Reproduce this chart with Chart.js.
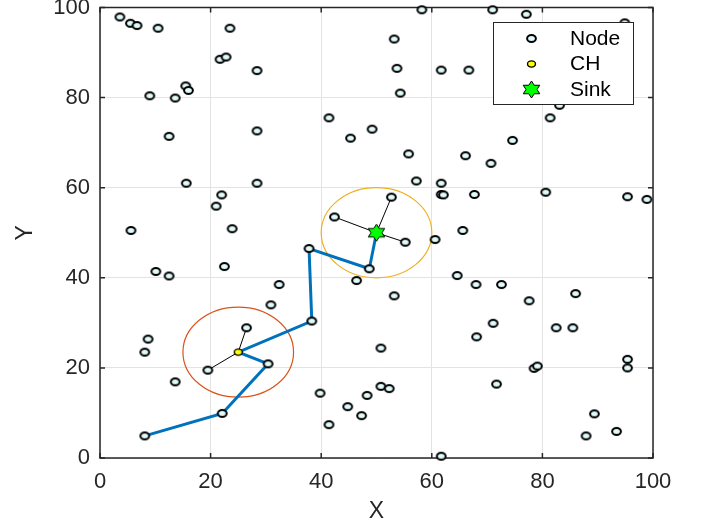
<!DOCTYPE html>
<html>
<head>
<meta charset="utf-8">
<script src="https://cdn.jsdelivr.net/npm/chart.js@4.4.0/dist/chart.umd.min.js"></script>
<style>
html, body { margin: 0; padding: 0; background: #fff; }
canvas { display: block; }
</style>
</head>
<body>
<canvas id="myChart" width="702" height="526"></canvas>
<script>
// node positions
const nodeX = [3.6, 5.5, 6.7, 10.5, 23.5, 21.7, 22.8, 28.4, 9.0, 13.6, 15.5, 16.0, 12.5, 28.4,
  58.2, 53.2, 53.7, 61.7, 66.7, 54.3, 41.4, 49.2, 45.3, 55.8, 66.1, 71.0, 77.1, 94.9, 83.1, 81.4, 74.6,
  15.6, 28.4, 22.0, 21.0, 5.6, 23.9, 10.1, 12.5, 22.5, 32.4, 30.9,
  57.2, 61.7, 61.7, 62.1, 67.7, 52.7, 42.4, 55.2, 60.6, 65.6, 37.8, 48.7, 46.4, 64.6, 68.0, 53.2,
  70.7, 80.6, 95.4, 98.9, 72.6, 77.6, 86.0,
  26.5, 8.7, 8.1, 30.4, 19.5, 13.6, 22.1, 8.1,
  38.3, 50.8, 68.1, 39.8, 41.4, 44.8, 47.3, 48.3, 50.8, 52.3, 61.7,
  71.1, 82.5, 85.5, 95.4, 95.4, 78.5, 79.1, 71.7, 89.4, 87.9, 93.4]
const nodeY = [97.9, 96.5, 96.0, 95.4, 95.4, 88.5, 89.0, 86.0, 80.4, 79.9, 82.6, 81.6, 71.4, 72.6,
  99.5, 93.0, 86.5, 86.1, 86.1, 81.0, 75.5, 73.0, 71.0, 67.5, 67.1, 99.5, 98.5, 96.6, 78.3, 75.5, 70.5,
  61.0, 61.0, 58.4, 55.9, 50.5, 50.9, 41.4, 40.4, 42.5, 38.5, 34.0,
  61.5, 61.0, 58.5, 58.4, 58.5, 57.9, 53.5, 47.9, 48.5, 50.5, 46.5, 42.0, 39.4, 40.5, 38.5, 36.0,
  65.4, 59.0, 58.0, 57.4, 38.5, 34.9, 36.5,
  28.9, 26.4, 23.5, 20.9, 19.5, 16.9, 9.9, 4.9,
  30.4, 24.4, 26.9, 14.4, 7.4, 11.4, 9.4, 13.9, 15.9, 15.4, 0.4,
  29.9, 28.9, 28.9, 21.9, 20.0, 19.9, 20.4, 16.4, 9.8, 4.9, 5.9]

const chX = [25.0]
const chY = [23.5]
const sinkX = [50.0]
const sinkY = [50.0]

// multi-hop route to the sink
const routeX = [8.1, 22.1, 30.4, 25.0, 38.3, 37.8, 48.7, 50.0]
const routeY = [4.9, 9.9, 20.9, 23.5, 30.4, 46.5, 42.0, 50.0]

// cluster members linked to their head
const chLinkX = [26.5, 19.5]
const chLinkY = [28.9, 19.5]
const sinkLinkX = [52.7, 42.4, 55.2]
const sinkLinkY = [57.9, 53.5, 47.9]

// cluster ranges
const rangeX = [25.0, 50.0]
const rangeY = [23.5, 50.0]
const rangeR = [10, 10]
const rangeColors = ['#D95319', '#EDB120']

const tickValues = [0, 20, 40, 60, 80, 100]
const legendLabels = ['Node', 'CH', 'Sink']

const FONT = "'Liberation Sans', Arial, sans-serif"
const TEXT = '#262626'

const makeEllipse = (rx, ry, fill, lw) => {
  const c = document.createElement('canvas')
  c.width = Math.round(2 * rx + lw + 2)
  c.height = Math.round(2 * ry + lw + 2)
  const ctx = c.getContext('2d')
  ctx.beginPath()
  ctx.ellipse(c.width / 2, c.height / 2, rx, ry, 0, 0, Math.PI * 2)
  ctx.fillStyle = fill
  ctx.fill()
  ctx.lineWidth = lw
  ctx.strokeStyle = '#000'
  ctx.stroke()
  return c
}

const makeHexagram = (r, sx) => {
  const c = document.createElement('canvas')
  c.width = Math.round(2 * r * sx + 4)
  c.height = Math.round(2 * r + 4)
  const ctx = c.getContext('2d')
  const cx = c.width / 2
  const cy = c.height / 2
  ctx.beginPath()
  for (let i = 0; i < 12; i++) {
    const a = -Math.PI / 2 + i * Math.PI / 6
    const rr = i % 2 === 0 ? r : r / Math.sqrt(3)
    const px = cx + Math.cos(a) * rr * sx
    const py = cy + Math.sin(a) * rr
    if (i === 0) ctx.moveTo(px, py)
    else ctx.lineTo(px, py)
  }
  ctx.closePath()
  ctx.fillStyle = '#00FF00'
  ctx.fill()
  ctx.lineWidth = 1
  ctx.strokeStyle = '#000'
  ctx.stroke()
  return c
}

const nodeMarker = makeEllipse(4.4, 3.5, '#e0fafa', 2)
const chMarker = makeEllipse(4, 3.1, '#ffff00', 1.4)
const sinkMarker = makeHexagram(8.5, 1.12)
const legendMarkers = [nodeMarker, chMarker, sinkMarker]

const toPoints = (xs, ys) => xs.map((x, i) => ({ x, y: ys[i] }))

const datasets = [
  { label: 'Sink', data: toPoints(sinkX, sinkY), pointStyle: sinkMarker, clip: false },
  { label: 'CH', data: toPoints(chX, chY), pointStyle: chMarker, clip: false },
  { label: 'Node', data: toPoints(nodeX, nodeY), pointStyle: nodeMarker, clip: false }
]
chLinkX.forEach((x, i) => {
  datasets.push({ data: [{ x: chX[0], y: chY[0] }, { x, y: chLinkY[i] }], showLine: true,
    borderColor: '#000', borderWidth: 1, pointRadius: 0 })
})
sinkLinkX.forEach((x, i) => {
  datasets.push({ data: [{ x: sinkX[0], y: sinkY[0] }, { x, y: sinkLinkY[i] }], showLine: true,
    borderColor: '#000', borderWidth: 1, pointRadius: 0 })
})
datasets.push({ label: 'Route', data: toPoints(routeX, routeY), showLine: true,
  borderColor: '#0072BD', borderWidth: 3, pointRadius: 0 })

// box, inward ticks and cluster circles
const axesPlugin = {
  id: 'axesBox',
  beforeDatasetsDraw(chart) {
    const { ctx, chartArea: a, scales: { x, y } } = chart
    ctx.save()
    rangeX.forEach((cx, i) => {
      const px = x.getPixelForValue(cx)
      const py = y.getPixelForValue(rangeY[i])
      const rx = x.getPixelForValue(cx + rangeR[i]) - px
      const ry = py - y.getPixelForValue(rangeY[i] + rangeR[i])
      ctx.beginPath()
      ctx.ellipse(px, py, rx, ry, 0, 0, Math.PI * 2)
      ctx.strokeStyle = rangeColors[i]
      ctx.lineWidth = 1.2
      ctx.stroke()
    })
    ctx.strokeStyle = TEXT
    ctx.lineWidth = 1.5
    ctx.strokeRect(a.left, a.top, a.right - a.left, a.bottom - a.top)
    ctx.beginPath()
    tickValues.forEach(v => {
      const px = x.getPixelForValue(v)
      ctx.moveTo(px, a.bottom); ctx.lineTo(px, a.bottom - 5)
      ctx.moveTo(px, a.top); ctx.lineTo(px, a.top + 5)
      const py = y.getPixelForValue(v)
      ctx.moveTo(a.left, py); ctx.lineTo(a.left + 5, py)
      ctx.moveTo(a.right, py); ctx.lineTo(a.right - 5, py)
    })
    ctx.stroke()
    ctx.restore()
  },
  afterDraw(chart) {
    const { ctx } = chart
    const bx = 493, by = 22, bw = 140, bh = 82
    ctx.save()
    ctx.fillStyle = '#fff'
    ctx.fillRect(bx, by, bw, bh)
    ctx.strokeStyle = TEXT
    ctx.lineWidth = 1
    ctx.strokeRect(bx + 0.5, by + 0.5, bw, bh)
    ctx.font = '21px ' + FONT
    ctx.textBaseline = 'middle'
    ctx.fillStyle = '#000'
    legendLabels.forEach((label, i) => {
      const ly = by + 16 + i * 25.5
      const m = legendMarkers[i]
      ctx.drawImage(m, Math.round(531 - m.width / 2), Math.round(ly - m.height / 2))
      ctx.fillText(label, 570, ly + 1)
    })
    ctx.restore()
  }
}

const scaleFont = { size: 22, family: FONT }
const titleFont = { size: 23, family: FONT }

new Chart(document.getElementById('myChart'), {
  type: 'scatter',
  data: { datasets },
  options: {
    responsive: false,
    animation: false,
    devicePixelRatio: 1,
    layout: { padding: { left: 0, right: 49, top: 7.5, bottom: 0 } },
    elements: { point: { radius: 5, hoverRadius: 5 } },
    plugins: { legend: { display: false }, tooltip: { enabled: false } },
    scales: {
      x: {
        type: 'linear', min: 0, max: 100,
        ticks: { stepSize: 20, padding: 11, color: TEXT, font: scaleFont, maxRotation: 0 },
        grid: { color: '#e3e3e3', drawTicks: false },
        border: { display: false },
        title: { display: true, text: 'X', color: TEXT, font: titleFont, padding: { top: 0, bottom: 1 } },
        afterFit: s => { s.height = 68 }
      },
      y: {
        type: 'linear', min: 0, max: 100,
        ticks: { stepSize: 20, padding: 10, color: TEXT, font: scaleFont },
        grid: { color: '#e3e3e3', drawTicks: false },
        border: { display: false },
        title: { display: true, text: 'Y', color: TEXT, font: titleFont, padding: { top: 12, bottom: 0 } },
        afterFit: s => { s.width = 100; s.paddingTop = 0; s.paddingBottom = 0 }
      }
    }
  },
  plugins: [axesPlugin]
})
</script>
</body>
</html>
